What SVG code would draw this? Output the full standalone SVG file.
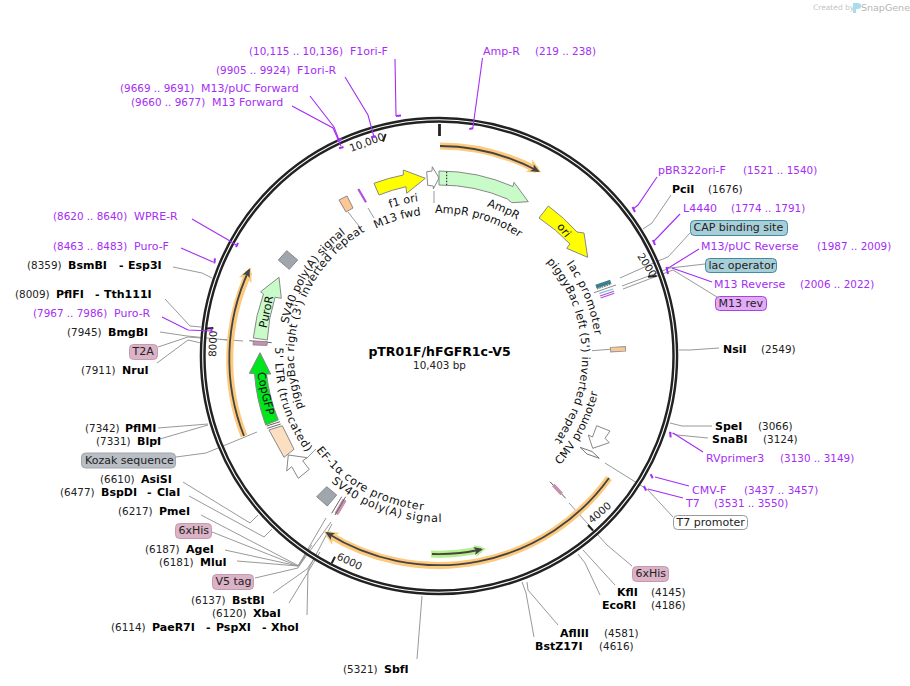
<svg xmlns="http://www.w3.org/2000/svg" width="910" height="686" viewBox="0 0 910 686">
<style>
text{font-family:"DejaVu Sans","Liberation Sans",sans-serif;font-size:10.4px;fill:#222}
.p{fill:#a52df5}
.n{font-size:11px}
.b{font-weight:bold;fill:#000;font-size:11px}
.f{font-size:11.2px;fill:#111}
.bx{font-size:11px}
.l{fill:none;stroke:#999;stroke-width:1}
.q{fill:none;stroke:#a52df5;stroke-width:1.100}
.t{fill:none;stroke:#a52df5;stroke-width:2}
.glow{fill:none;stroke:#fdc97c;stroke-width:7}
.glowg{fill:none;stroke:#b6ee8c;stroke-width:7}
.core{fill:none;stroke:#444;stroke-width:1.800}
.fe{stroke:#888;stroke-width:1}
.tick{stroke:#222;stroke-width:2}
.box{stroke-width:1}
</style>
<defs>
<marker id="hd" markerUnits="userSpaceOnUse" markerWidth="14" markerHeight="14" refX="7" refY="7" orient="auto"><path d="M0,3 L9,7 L0,11 L2,7 Z" fill="#444"/></marker>
<marker id="ho" markerUnits="userSpaceOnUse" markerWidth="20" markerHeight="20" refX="9" refY="10" orient="auto"><path d="M0,3 L14,10 L0,17 L3,10 Z" fill="#fdc97c"/></marker>
<marker id="hg" markerUnits="userSpaceOnUse" markerWidth="20" markerHeight="20" refX="6" refY="10" orient="auto"><path d="M0,4 L11,10 L0,16 L2,10 Z" fill="#b6ee8c"/></marker>
<path id="c142" d="M439,214 A142,142 0 1 1 438.99,214"/>
<path id="c143" d="M439,213 A143,143 0 1 1 438.99,213"/>
<path id="c145" d="M439,211 A145,145 0 1 1 438.99,211"/>
<path id="c154" d="M439,202 A154,154 0 1 1 438.99,202"/>
<path id="c156" d="M439,200 A156,156 0 1 1 438.99,200"/>
<path id="c157" d="M439,199 A157,157 0 1 1 438.99,199"/>
<path id="a155" d="M439,201 A155,155 0 1 0 439.01,201"/>
<path id="a163" d="M439,193 A163,163 0 1 0 439.01,193"/>
<path id="a164" d="M439,192 A164,164 0 1 0 439.01,192"/>
<path id="a166" d="M439,190 A166,166 0 1 0 439.01,190"/>
</defs>
<g id="branding"><text x="813" y="10" style="font-size:7.5px;fill:#c4c4c4">Created by</text><path d="M853,3 h5 a3,3 0 0 1 0,6 h-2 v4 h-3 Z" fill="#a9dcec"/><text x="861" y="11" style="font-size:9.5px;fill:#b5b5b5">SnapGene</text></g>

<g id="connectors">
<path class="l" d="M671,195 L652,223 L643,229"/>
<path class="l" d="M690,233 L668,257 L658,261 L620,278"/>
<path class="l" d="M705,264 L670,268 L622,286"/>
<path class="l" d="M717,297 L673,270 L623,289"/>
<path class="l" d="M719,348 L690,350 L679,350"/>
<path class="l" d="M592,350.700 L610,349.300"/>
<path class="l" d="M712,426 L682,426 L670,423"/>
<path class="l" d="M708,438 L677,435 L669,432"/>
<path class="l" d="M673,517 L648,490 L637,483 L605,463"/>
<path class="l" d="M632,566 L607,545 L569,503"/>
<path class="l" d="M615,585 L583,550"/>
<path class="l" d="M600,595 L585,563 L578,554"/>
<path class="l" d="M558,625 L528,590 L527,582"/>
<path class="l" d="M534,637 L526,593 L522,582"/>
<path class="l" d="M417,659 L422,596"/>
<path class="l" d="M307,615 L308,570 L332,524"/>
<path class="l" d="M289,603 L308,572 L320,552"/>
<path class="l" d="M273,593 L307,569 L316,556"/>
<path class="l" d="M255,578 L298,568 L305,556"/>
<path class="l" d="M237,561 L298,566 L309,549"/>
<path class="l" d="M225,550 L298,566 L312,545"/>
<path class="l" d="M212,532 L298,566 L326,518"/>
<path class="l" d="M201,515 L299,566 L331,522"/>
<path class="l" d="M189,496 L264,537 L272,529"/>
<path class="l" d="M183,482 L250,523 L258,515"/>
<path class="l" d="M176,457 L206,453 L257,432"/>
<path class="l" d="M158,428 L208,424"/>
<path class="l" d="M153,441 L208,425"/>
<path class="l" d="M157,363 L188,340 L201,343"/>
<path class="l" d="M158,347 L188,337 L201,338"/>
<path class="l" d="M160,332 L187,336 L227,340"/>
<path class="l" d="M165,299 L190,326 L201,327"/>
<path class="l" d="M173,267 L202,273 L212,278"/>
<path class="l" d="M220,339.300 L243,341"/>
<path class="l" d="M434,191 L434,203"/>
<path class="l" d="M368,208 L374,218"/>
<path class="l" d="M348,212 L359,226"/>
<path class="l" d="M307,458 L316,449"/>
</g>

<g id="backbone">
<circle cx="439" cy="356" r="236.300" fill="none" stroke="#222" stroke-width="6"/>
<circle cx="439" cy="356" r="236.300" fill="none" stroke="#fff" stroke-width="1.100"/>
<path d="M439.500,124 V136" stroke="#222" stroke-width="2.800"/>
<path class="tick" d="M385.700,134 L383,141.700"/><path class="tick" d="M648,276.700 L656.700,276"/><path class="tick" d="M588,525 L593,530.700"/><path class="tick" d="M335,556.700 L331.700,563.300"/><path class="tick" d="M213.300,328 L206.700,328.500"/>
<text transform="translate(351,152) rotate(-20)">10,000</text>
<text transform="translate(637,256) rotate(58)">2000</text>
<text transform="translate(592,524) rotate(-41)">4000</text>
<text transform="translate(336,559) rotate(25)">6000</text>
<text transform="translate(216,357) rotate(-88)">8000</text>
</g>

<g id="primer-connectors">
<path class="q" d="M395,59 L396,116"/><path class="t" d="M396,116 L401,115.500"/>
<path class="q" d="M482.500,58 L472.700,129"/><path class="t" d="M469.300,129 L473,128.300"/>
<path class="q" d="M345,77 L368,115 L374,137"/><path class="t" d="M371,137.300 L376,136.500"/>
<path class="q" d="M310,96 L334,127 L339,140"/><path class="q" d="M292,106 L333,128 L341,146"/><path class="t" d="M339,148.300 L343.500,147"/><path class="t" d="M337,141 L342,139"/>
<path class="q" d="M657,177 L638,205 L633,209"/><path class="t" d="M632.500,207 L635,212"/>
<path class="q" d="M680,214 L657,238 L653,242"/><path class="t" d="M653,240 L655,245"/>
<path class="q" d="M699,249 L670,267 L667,268"/><path class="t" d="M666.500,267 L668,274"/>
<path class="q" d="M712,282 L672,268"/>
<path class="q" d="M703,452 L673,433"/><path class="t" d="M670,432 L670.700,437.300"/>
<path class="q" d="M689,486 L655,477"/><path class="t" d="M650.700,474.300 L652.700,478.300"/>
<path class="q" d="M683,498 L648,489"/><path class="t" d="M644,486 L646,490.700"/>
<path class="q" d="M162,317 L188,330 L212,331"/><path class="t" d="M211.500,328.500 L211.500,333"/>
<path class="q" d="M181,248 L213,262"/><path class="t" d="M215,258.300 L214.300,263.300"/>
<path class="q" d="M192,219 L230,241 L236,245"/><path class="t" d="M238,243 L236,247"/>
</g>

<g id="orf-top"><path class="glow" d="M440,146 A210,210 0 0 1 537,170" marker-end="url(#ho)"/><path class="core" d="M440,146 A210,210 0 0 1 538,171" marker-end="url(#hd)"/></g>
<g id="orf-right"><path class="glow" d="M609,478 A210,210 0 0 1 328,534" marker-end="url(#ho)"/><path class="core" d="M609,478 A210,210 0 0 1 327,533" marker-end="url(#hd)"/></g>
<g id="orf-left"><path class="glow" d="M244,436 A210,210 0 0 1 249,272" marker-end="url(#ho)"/><path class="core" d="M244,436 A210,210 0 0 1 249,270" marker-end="url(#hd)"/></g>
<g id="orf-green"><path class="glowg" d="M431,554 A198,198 0 0 0 481,549.500" marker-end="url(#hg)"/><path class="core" d="M432,554 A198,198 0 0 0 481,549.500" marker-end="url(#hd)"/></g>

<g id="f1-ori"><path class="fe" fill="#ffff00" d="M374,183.300 A184.500,184.500 0 0 1 403.300,175 L403.300,170 L425.300,178.300 L406.700,193.300 L406,186.700 A172,172 0 0 0 379,195 Z"/></g>
<g id="AmpR-promoter"><path class="fe" fill="#fff" d="M426.700,171.700 L432,171 L432.300,166.700 L439,178 L433.300,189 L433.300,186 L427.700,185.300 Z"/></g>
<g id="AmpR"><path class="fe" fill="#c8fbc8" d="M439,171 A185,185 0 0 1 513,186.500 L514,182.300 L528.300,201.700 L511.700,202.700 L507.500,199 A171,171 0 0 0 439,185 Z"/><path d="M446.700,171.700 V185" stroke="#111" stroke-width="1" stroke-dasharray="1.500 1.500"/></g>
<g id="ori"><path class="fe" fill="#ffff00" d="M548.300,206 A185,185 0 0 1 577,232 L584,233 L587.700,257.300 L566.700,248.300 L570,244 A172,172 0 0 0 539,218 Z"/><text class="f" transform="translate(564.300,230) rotate(51)" text-anchor="middle" dy="4">ori</text></g>
<g id="lac-cluster">
<path d="M596,286.700 L610.700,281.700" stroke="#3b7f8f" stroke-width="4"/>
<path d="M597,289 L611.500,284" stroke="#555" stroke-width="1" stroke-dasharray="1.500 1"/>
<path d="M594,292.700 L616,285" stroke="#888" stroke-width="1"/>
<path d="M599.300,293.300 L613.300,289" stroke="#7cc2cf" stroke-width="1.300"/>
<path d="M600,296 L614,291.300" stroke="#b04fe0" stroke-width="1.200"/>
<path d="M600.700,298 L614.300,293.300" stroke="#b04fe0" stroke-width="1.200"/>
</g>
<g id="piggyBac-left"><rect x="610.500" y="347" width="15" height="4.500" fill="#fcc795" stroke="#999" transform="rotate(-3 618 349)"/></g>
<g id="CMV-promoter"><path class="fe" fill="#fff" d="M596.700,425.700 L610,431 L605,438.300 L609.300,442.700 L592.700,448.300 L588.300,435 L592.500,437 Z"/></g>
<g id="lozenge"><path fill="#fff" stroke="#777" stroke-width="1" d="M580,447.300 L592,451.500 L599.300,458.300 L587,454 Z"/></g>
<g id="his-right"><path d="M550,481.700 L565.700,498.300" stroke="#555" stroke-width="1"/><path d="M553.300,485 L561.700,494" stroke="#c98eb0" stroke-width="3.500"/></g>
<g id="square-top"><path class="fe" fill="#a0a6ae" d="M278.300,260 L286.700,250.700 L297.700,260 L289.300,269.300 Z"/></g>
<g id="wpre"><path class="fe" fill="#fcc795" d="M339,200 L347,196 L353,208 L346,212 Z"/></g>
<g id="M13-fwd"><path d="M358.300,189 L366,202.300" stroke="#b04fe0" stroke-width="2.200"/></g>
<g id="PuroR"><path class="fe" fill="#c8fbc8" d="M253.300,338 A186,186 0 0 1 263.500,294 L260.700,291.700 L279,277.300 L281.300,298.300 L275,297.300 A172,172 0 0 0 267.300,340 Z"/><text class="f" transform="translate(266,311.700) rotate(-78)" text-anchor="middle" dy="4">PuroR</text></g>
<g id="T2A"><path d="M249.300,340.700 L271.700,342.700" stroke="#666" stroke-width="1"/><path d="M253.300,341 L267.700,341.700 L267,345.500 L253,345 Z" fill="#c98eb0" stroke="#888" stroke-width="0.800"/></g>
<g id="CopGFP"><path class="fe" fill="#00e51c" d="M265.700,425 A186,186 0 0 1 254.500,373.500 L249.300,373.300 L260,352.700 L270.700,374 L266.500,374 A173,173 0 0 0 278.300,420 Z"/><text class="f" transform="translate(265.700,393.300) rotate(77)" text-anchor="middle" dy="4">CopGFP</text></g>
<g id="pair"><path d="M266.700,426 L280,421.700 M267.300,428.300 L280.700,424" stroke="#666" stroke-width="1"/></g>
<g id="LTR"><path class="fe" fill="#fcdfc0" d="M269,430 L282.300,425.700 L294,449.300 L284,457.300 Z"/></g>
<g id="EF1a"><path class="fe" fill="#fff" d="M288.300,455 L307.300,457.700 L302.700,460.700 L309.300,469.300 L298.300,478.300 L291.700,466.700 L286.700,471 Z"/></g>
<g id="square-bottom"><path class="fe" fill="#a0a6ae" d="M316.700,496.700 L326.700,486.700 L336.700,495 L327.300,506 Z"/></g>
<g id="his-left"><path d="M335,513 L343,499 L346,501 L338,514.500 Z" fill="#c98eb0" stroke="#c98eb0"/><path d="M331.700,513.300 L341.700,496.700 M335,515 L345.700,496.700" stroke="#666" stroke-width="1"/></g>

<g id="feature-labels">
<g transform="rotate(341.700 439 356)"><text class="f"><textPath href="#c156">f1 ori</textPath></text></g>
<g transform="rotate(333.600 439 356)"><text class="f"><textPath href="#c142">M13 fwd</textPath></text></g>
<g transform="rotate(-1.600 439 356)"><text class="f"><textPath href="#c143">AmpR promoter</textPath></text></g>
<g transform="rotate(17.700 439 356)"><text class="f"><textPath href="#c157">AmpR</textPath></text></g>
<g transform="rotate(54.200 439 356)"><text class="f" letter-spacing="0.500"><textPath href="#c157">lac promoter</textPath></text></g>
<g transform="rotate(48.800 439 356)"><text class="f" letter-spacing="0.200"><textPath href="#c143">piggyBac left (5') inverted repeat</textPath></text></g>
<g transform="rotate(282 439 356)"><text class="f"><textPath href="#c154">SV40 poly(A) signal</textPath></text></g>
<g transform="rotate(249 439 356)"><text class="f" letter-spacing="0.250"><textPath href="#c145">piggyBac right (3') inverted repeat</textPath></text></g>
<g transform="rotate(273 439 356)"><text class="f" letter-spacing="0.700"><textPath href="#a164">5' LTR (truncated)</textPath></text></g>
<g transform="rotate(132 439 356)"><text class="f" letter-spacing="0.200"><textPath href="#a163">CMV promoter</textPath></text></g>
<g transform="rotate(232.500 439 356)"><text class="f" letter-spacing="0.600"><textPath href="#a155">EF-1α core promoter</textPath></text></g>
<g transform="rotate(220.600 439 356)"><text class="f" letter-spacing="0.600"><textPath href="#a166">SV40 poly(A) signal</textPath></text></g>
</g>

<g id="center"><text class="b" x="439.500" y="356" text-anchor="middle" style="font-size:12.500px">pTR01F/hFGFR1c-V5</text><text x="439.500" y="369" text-anchor="middle">10,403 bp</text></g>

<g id="primers">
<g id="F1ori-F"><text class="p" x="249" y="55">(10,115 .. 10,136)</text><text class="p n" x="350" y="55">F1ori-F</text></g>
<g id="F1ori-R"><text class="p" x="216" y="74">(9905 .. 9924)</text><text class="p n" x="297" y="74">F1ori-R</text></g>
<g id="M13pUC-F"><text class="p" x="120" y="92">(9669 .. 9691)</text><text class="p n" x="201" y="92">M13/pUC Forward</text></g>
<g id="M13-F"><text class="p" x="131" y="106">(9660 .. 9677)</text><text class="p n" x="212" y="106">M13 Forward</text></g>
<g id="Amp-R"><text class="p n" x="483" y="55">Amp-R</text><text class="p" x="535" y="55">(219 .. 238)</text></g>
<g id="pBR322"><text class="p n" x="658" y="174">pBR322ori-F</text><text class="p" x="743" y="174">(1521 .. 1540)</text></g>
<g id="L4440"><text class="p n" x="683" y="212">L4440</text><text class="p" x="731" y="212">(1774 .. 1791)</text></g>
<g id="M13pUC-R"><text class="p n" x="701" y="250">M13/pUC Reverse</text><text class="p" x="817" y="250">(1987 .. 2009)</text></g>
<g id="M13-R"><text class="p n" x="714" y="288">M13 Reverse</text><text class="p" x="800" y="288">(2006 .. 2022)</text></g>
<g id="RVprimer3"><text class="p n" x="706" y="462">RVprimer3</text><text class="p" x="780" y="462">(3130 .. 3149)</text></g>
<g id="CMV-F"><text class="p n" x="692" y="494">CMV-F</text><text class="p" x="744" y="494">(3437 .. 3457)</text></g>
<g id="T7"><text class="p n" x="686" y="507">T7</text><text class="p" x="714" y="507">(3531 .. 3550)</text></g>
<g id="Puro-R"><text class="p" x="33" y="317">(7967 .. 7986)</text><text class="p n" x="114" y="317">Puro-R</text></g>
<g id="Puro-F"><text class="p" x="53" y="250">(8463 .. 8483)</text><text class="p n" x="134" y="250">Puro-F</text></g>
<g id="WPRE-R"><text class="p" x="53" y="220">(8620 .. 8640)</text><text class="p n" x="134" y="220">WPRE-R</text></g>
</g>

<g id="sites">
<g id="PciI"><text class="b" x="672" y="193">PciI</text><text x="708" y="193">(1676)</text></g>
<g id="NsiI"><text class="b" x="723" y="353">NsiI</text><text x="761" y="353">(2549)</text></g>
<g id="SpeI"><text class="b" x="715" y="430">SpeI</text><text x="758" y="430">(3066)</text></g>
<g id="SnaBI"><text class="b" x="712" y="443">SnaBI</text><text x="763" y="443">(3124)</text></g>
<g id="KflI"><text class="b" x="617" y="596">KflI</text><text x="651" y="596">(4145)</text></g>
<g id="EcoRI"><text class="b" x="602" y="609">EcoRI</text><text x="651" y="609">(4186)</text></g>
<g id="AflIII"><text class="b" x="560" y="637">AflIII</text><text x="604" y="637">(4581)</text></g>
<g id="BstZ17I"><text class="b" x="535" y="650">BstZ17I</text><text x="599" y="650">(4616)</text></g>
<g id="SbfI"><text x="343" y="673">(5321)</text><text class="b" x="384" y="673">SbfI</text></g>
<g id="XhoI"><text x="111" y="631">(6114)</text><text class="b" x="152" y="631">PaeR7I</text><text class="b" x="206" y="631">-</text><text class="b" x="216" y="631">PspXI</text><text class="b" x="262" y="631">-</text><text class="b" x="271" y="631">XhoI</text></g>
<g id="XbaI"><text x="212" y="617">(6120)</text><text class="b" x="253" y="617">XbaI</text></g>
<g id="BstBI"><text x="191" y="604">(6137)</text><text class="b" x="232" y="604">BstBI</text></g>
<g id="MluI"><text x="159" y="566">(6181)</text><text class="b" x="200" y="566">MluI</text></g>
<g id="AgeI"><text x="145" y="553">(6187)</text><text class="b" x="186" y="553">AgeI</text></g>
<g id="PmeI"><text x="118" y="515">(6217)</text><text class="b" x="159" y="515">PmeI</text></g>
<g id="ClaI"><text x="60" y="496">(6477)</text><text class="b" x="101" y="496">BspDI</text><text class="b" x="147" y="496">-</text><text class="b" x="157" y="496">ClaI</text></g>
<g id="AsiSI"><text x="100" y="483">(6610)</text><text class="b" x="141" y="483">AsiSI</text></g>
<g id="BlpI"><text x="96" y="445">(7331)</text><text class="b" x="137" y="445">BlpI</text></g>
<g id="PflMI"><text x="85" y="432">(7342)</text><text class="b" x="125" y="432">PflMI</text></g>
<g id="NruI"><text x="81" y="374">(7911)</text><text class="b" x="122" y="374">NruI</text></g>
<g id="BmgBI"><text x="67" y="336">(7945)</text><text class="b" x="108" y="336">BmgBI</text></g>
<g id="PflFI"><text x="15" y="298">(8009)</text><text class="b" x="56" y="298">PflFI</text><text class="b" x="95" y="298">-</text><text class="b" x="104" y="298">Tth111I</text></g>
<g id="BsmBI"><text x="27" y="269">(8359)</text><text class="b" x="68" y="269">BsmBI</text><text class="b" x="119" y="269">-</text><text class="b" x="128" y="269">Esp3I</text></g>
</g>

<g id="boxes">
<g id="box-CAP"><rect class="box" x="690.500" y="220.500" width="97" height="15" rx="4" fill="#a8ced8" stroke="#3f8da3"/><text class="bx" x="693.500" y="231">CAP binding site</text></g>
<g id="box-lac"><rect class="box" x="705.500" y="258.500" width="71" height="14" rx="4" fill="#a8ced8" stroke="#3f8da3"/><text class="bx" x="708.500" y="269">lac operator</text></g>
<g id="box-M13rev"><rect class="box" x="715.500" y="296.500" width="51" height="14" rx="4" fill="#e2aaf7" stroke="#a445e0"/><text class="bx" x="718.500" y="307">M13 rev</text></g>
<g id="box-T7"><rect class="box" x="673.500" y="515.500" width="74" height="14" rx="4" fill="#fff" stroke="#999"/><text class="bx" x="676.500" y="526">T7 promoter</text></g>
<g id="box-His-r"><rect class="box" x="632.500" y="566.500" width="36" height="15" rx="4" fill="#dcb2c6" stroke="#c59ab0"/><text class="bx" x="635.500" y="577">6xHis</text></g>
<g id="box-V5"><rect class="box" x="212.500" y="574.500" width="41" height="15" rx="4" fill="#dcb2c6" stroke="#c59ab0"/><text class="bx" x="215.500" y="585">V5 tag</text></g>
<g id="box-His-l"><rect class="box" x="175.500" y="523.500" width="36" height="15" rx="4" fill="#dcb2c6" stroke="#c59ab0"/><text class="bx" x="178.500" y="534">6xHis</text></g>
<g id="box-Kozak"><rect class="box" x="81.500" y="453" width="94" height="15" rx="4" fill="#b8bec4" stroke="#a0a6ac"/><text class="bx" x="85" y="464">Kozak sequence</text></g>
<g id="box-T2A"><rect class="box" x="129.500" y="344.500" width="28" height="15" rx="4" fill="#dcb2c6" stroke="#c59ab0"/><text class="bx" x="132.500" y="355">T2A</text></g>
</g>
</svg>
